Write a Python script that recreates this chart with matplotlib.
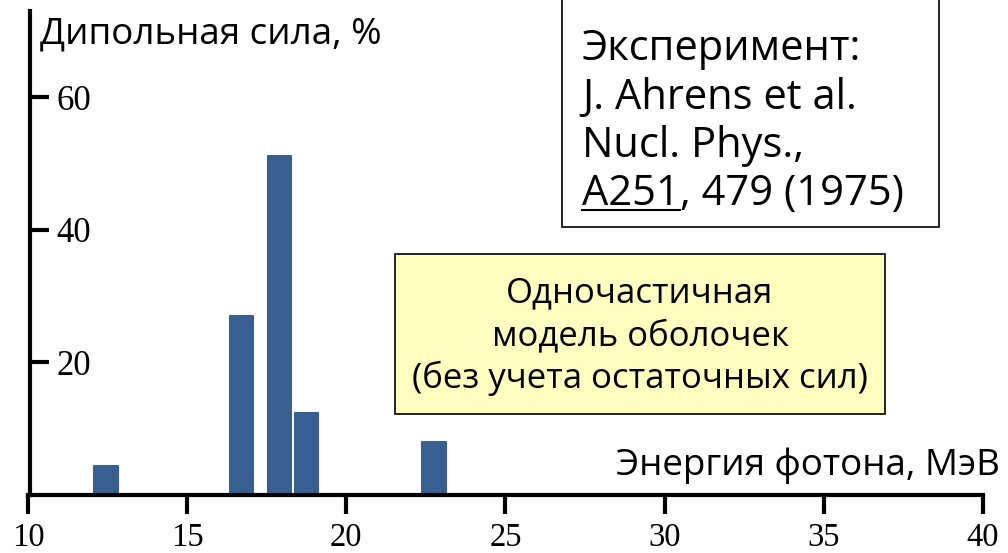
import matplotlib
matplotlib.use("Agg")
import matplotlib.pyplot as plt
from matplotlib.patches import Rectangle
from matplotlib.lines import Line2D

# ---- data ----
energies = [12.45, 16.7, 17.9, 18.75, 22.75]      # MeV
strengths = [4.3, 27.0, 51.1, 12.3, 8.0]          # %
bar_width = 0.74
xticks = [10, 15, 20, 25, 30, 35, 40]
yticks = [20, 40, 60]
ylabel = "Дипольная сила, %"
xlabel = "Энергия фотона, МэВ"
exp_lines = ["Эксперимент:", "J. Ahrens et al.", "Nucl. Phys.,"]
exp_ref_underlined = "A251"
exp_ref_rest = ", 479 (1975)"
model_lines = ["Одночастичная", "модель оболочек", "(без учета остаточных сил)"]

W, H = 1008, 553
SANS = ["Open Sans", "DejaVu Sans"]
SERIF = ["Liberation Serif", "DejaVu Serif"]
BAR_COLOR = "#375f8f"

fig = plt.figure(figsize=(W / 100, H / 100), dpi=100)
ax = fig.add_axes([28 / W, 1 - 495 / H, 955 / W, 484 / H])
ax.set_xlim(10, 40)
ax.set_ylim(0, 73)

ax.bar(energies, strengths, width=bar_width, color=BAR_COLOR,
       edgecolor=BAR_COLOR, linewidth=1.5, joinstyle="round", zorder=2)

for s in ["top", "right"]:
    ax.spines[s].set_visible(False)
ax.spines["left"].set_linewidth(3)
ax.spines["bottom"].set_linewidth(3)
ax.spines["left"].set_position(("data", 10.06))

ax.set_xticks(xticks)
ax.set_xticklabels([str(v) for v in xticks], fontfamily=SERIF, fontsize=23.5)
ax.tick_params(axis="x", direction="out", length=14, width=3, pad=6)

ax.set_yticks(yticks)
ax.set_yticklabels([str(v) for v in yticks], fontfamily=SERIF, fontsize=25)
ax.tick_params(axis="y", direction="in", length=14, width=3, pad=-19)
for lab in ax.get_yticklabels():
    lab.set_horizontalalignment("left")

ax.patch.set_alpha(0)

def px(x, y):
    return x / W, 1 - y / H

# axis titles
fig.text(*px(40, 43), ylabel, fontfamily=SANS, fontsize=26.5, va="baseline", ha="left")
fig.text(*px(1000, 475), xlabel, fontfamily=SANS, fontsize=26.5, va="baseline", ha="right")

# experiment box
FS1 = 30
x0, y0 = px(562, 227)
x1, y1 = px(939, -5)
fig.patches.append(Rectangle((x0, y0), x1 - x0, y1 - y0, transform=fig.transFigure,
                             facecolor="white", edgecolor="black", linewidth=1.2, zorder=3))
base = [60, 109, 157]
for t, b in zip(exp_lines, base):
    fig.text(*px(582, b), t, fontfamily=SANS, fontsize=FS1, va="baseline", ha="left", zorder=4)
t1 = fig.text(*px(582, 205), exp_ref_underlined, fontfamily=SANS, fontsize=FS1,
              va="baseline", ha="left", zorder=4)
fig.canvas.draw()
r = fig.canvas.get_renderer()
bb = t1.get_window_extent(r)
fig.text(bb.x1 / W, 1 - 205 / H, exp_ref_rest, fontfamily=SANS, fontsize=FS1,
         va="baseline", ha="left", zorder=4)
uy = 1 - 210 / H
fig.add_artist(Line2D([bb.x0 / W, bb.x1 / W], [uy, uy], color="black", linewidth=1.5,
                      transform=fig.transFigure, zorder=4))

# model box
FS2 = 25
x0, y0 = px(395, 414)
x1, y1 = px(885, 254)
fig.patches.append(Rectangle((x0, y0), x1 - x0, y1 - y0, transform=fig.transFigure,
                             facecolor="#ffffc0", edgecolor="black", linewidth=1.2, zorder=3))
for t, b in zip(model_lines, [302, 345, 388]):
    fig.text(*px(640, b), t, fontfamily=SANS, fontsize=FS2, va="baseline", ha="center", zorder=4)

fig.savefig("out.png", dpi=100)
